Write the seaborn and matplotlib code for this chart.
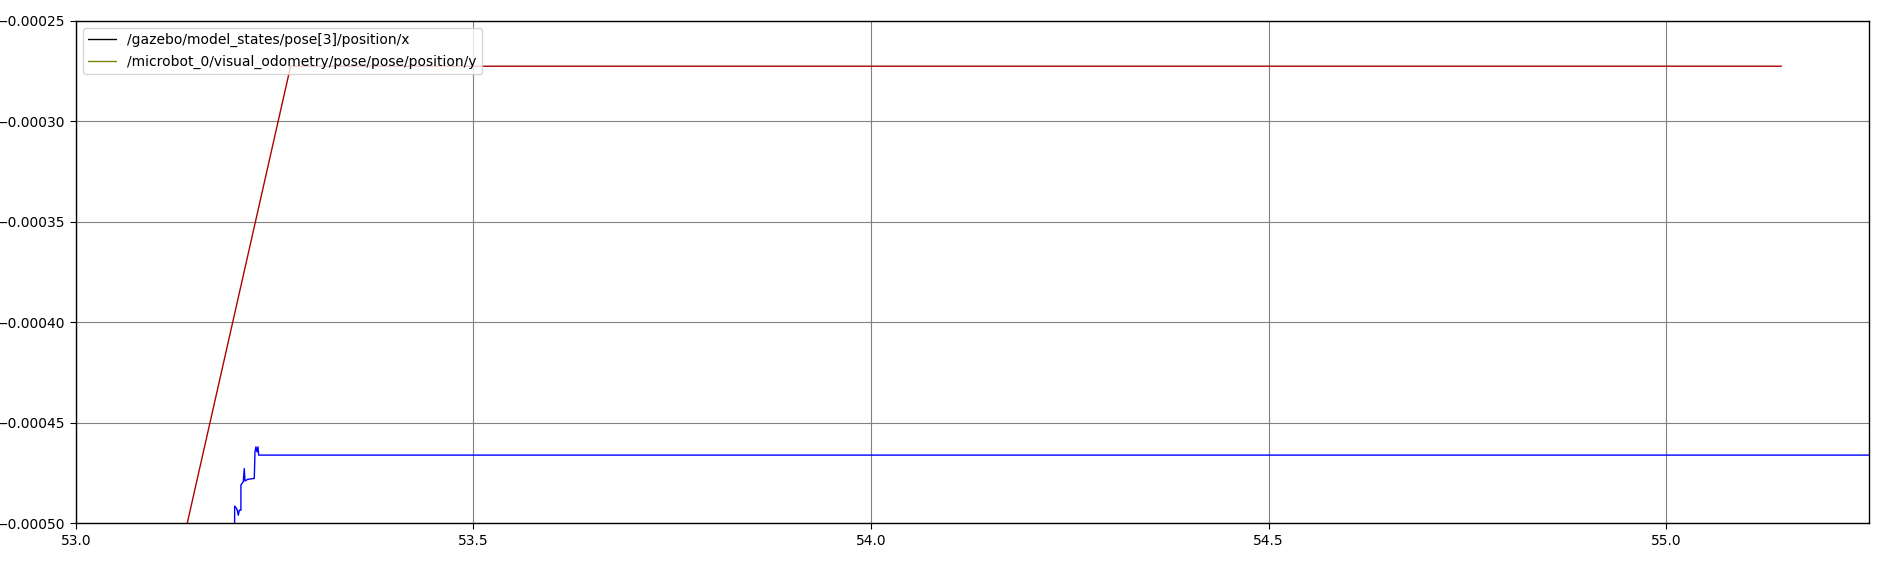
import pandas as pd
import matplotlib
matplotlib.use("Agg")
import matplotlib.pyplot as plt
import seaborn as sns
from matplotlib.lines import Line2D

# red trace (rises, then flat)
red_t = [53.14, 53.27, 55.145]
red_y = [-0.000500, -0.0002726, -0.0002726]

# blue trace (jittery start, then flat)
blue_t = [53.1996, 53.1996, 53.2013, 53.2029, 53.2042, 53.2055, 53.2075, 53.2075,
          53.2105, 53.2117, 53.2126, 53.2159, 53.2243, 53.2252, 53.2264, 53.2277,
          53.2290, 53.2298, 55.40]
blue_y = [-0.000500, -0.0004915, -0.0004922, -0.0004935, -0.000496, -0.0004935,
          -0.0004935, -0.000481, -0.0004793, -0.0004728, -0.000479, -0.0004782,
          -0.0004777, -0.0004645, -0.000462, -0.0004645, -0.000462, -0.0004661,
          -0.0004661]

legend_labels = ["/gazebo/model_states/pose[3]/position/x",
                 "/microbot_0/visual_odometry/pose/pose/position/y"]
legend_colors = ["black", "#808000"]

df_red = pd.DataFrame({"t": red_t, "v": red_y})
df_blue = pd.DataFrame({"t": blue_t, "v": blue_y})

sns.set_style("white", {"text.color": "black", "xtick.color": "black",
                        "ytick.color": "black", "axes.labelcolor": "black"})
fig, ax = plt.subplots(figsize=(18.84, 5.62), dpi=100)
sns.lineplot(data=df_red, x="t", y="v", estimator=None, sort=False,
             color="#b00000", linewidth=1, ax=ax)
sns.lineplot(data=df_blue, x="t", y="v", estimator=None, sort=False,
             color="blue", linewidth=1, ax=ax)

ax.set_xlim(53.0, 55.255)
ax.set_ylim(-0.0005, -0.00025)
ax.set_xticks([53.0, 53.5, 54.0, 54.5, 55.0])
ax.set_yticks([-0.0005, -0.00045, -0.0004, -0.00035, -0.0003, -0.00025])
ax.set_yticklabels(["\u22120.00050", "\u22120.00045", "\u22120.00040",
                    "\u22120.00035", "\u22120.00030", "\u22120.00025"])
ax.set_xlabel("")
ax.set_ylabel("")
ax.grid(True, color="gray", linewidth=0.8)
ax.tick_params(axis="both", direction="out", length=4, labelsize=10,
               left=True, bottom=True, colors="black")
for s in ax.spines.values():
    s.set_color("black")
    s.set_linewidth(1)

handles = [Line2D([0], [0], color=c, linewidth=1) for c in legend_colors]
leg = ax.legend(handles, legend_labels, loc="upper left", fontsize=10, frameon=True)
for txt in leg.get_texts():
    txt.set_color("black")

fig.subplots_adjust(left=0.0403, right=0.992, top=0.963, bottom=0.069)
fig.savefig("out.png", dpi=100)
